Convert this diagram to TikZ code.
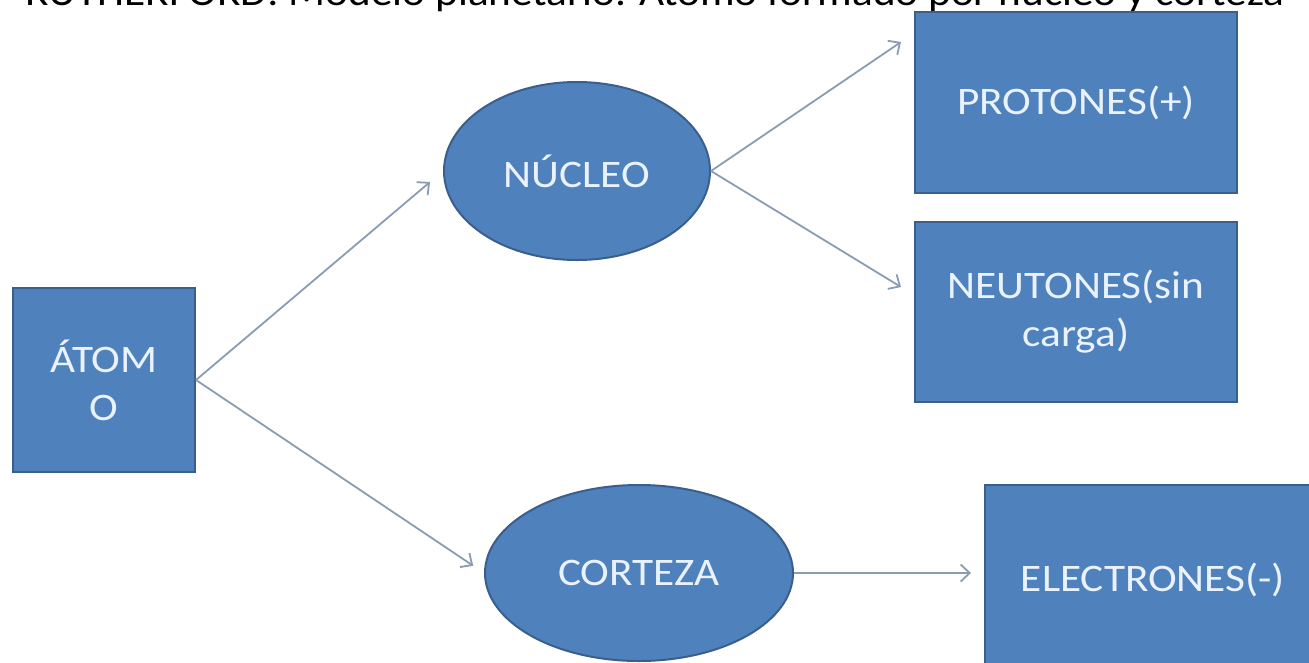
\documentclass[tikz,border=0pt]{standalone}
\usepackage{fontspec}
\setmainfont{Carlito}[FakeStretch=1.11]
\usetikzlibrary{shapes.geometric,arrows.meta,calc}
\definecolor{boxfill}{HTML}{4F81BD}
\definecolor{boxline}{HTML}{3A5F8C}
\definecolor{boxtext}{HTML}{EAF2FF}
\definecolor{arrowcol}{HTML}{8A9CB4}
\begin{document}
\begin{tikzpicture}[x=1pt,y=-1pt,
  shape base/.style={fill=boxfill,draw=boxline,line width=2pt,text=boxtext,
    font=\fontsize{39}{48}\selectfont,align=center,inner sep=0pt},
  boxnode/.style={shape base,rectangle},
  ovalnode/.style={shape base,ellipse},
  conn/.style={draw=arrowcol,line width=1.8pt,-{Straight Barb[length=9pt,width=17pt,line width=1.8pt]}}
]
\useasboundingbox (0,0) rectangle (1309,662);
\clip (0,0) rectangle (1309,662);
\fill[white] (0,0) rectangle (1309,662);

\node[anchor=base west,font=\fontsize{39}{48}\selectfont,text=black,inner sep=0pt] (title) at (25,5)
  {RUTHERFORD: Modelo planetario. Átomo formado por núcleo y corteza};

\node[boxnode,minimum width=182pt,minimum height=184pt] (atomo) at (104,380) {ÁTOM\\O};
\node[ovalnode,minimum width=266pt,minimum height=178pt] (nucleo) at (577,171) {NÚCLEO};
\node[ovalnode,minimum width=308pt,minimum height=176pt] (corteza) at (639,573) {CORTEZA};
\node[boxnode,minimum width=322pt,minimum height=181pt] (protones) at (1076,102.5) {PROTONES(+)};
\node[boxnode,minimum width=322pt,minimum height=180pt] (neutones) at (1076,312) {NEUTONES(sin\\carga)};
\node[boxnode,minimum width=336pt,minimum height=190pt] (electrones) at (1153,580) {ELECTRONES(-)};

\draw[conn,shorten >=17pt] (atomo.east) -- (nucleo.west);
\draw[conn,shorten >=13pt] (atomo.east) -- (corteza.west);
\draw[conn] (nucleo.east) -- ([shift={(-13,31)}]protones.north west);
\draw[conn] (nucleo.east) -- ([shift={(-13,-25)}]neutones.west);
\draw[conn,shorten >=13pt] (corteza.east) -- (corteza.east -| electrones.west);
\end{tikzpicture}
\end{document}
